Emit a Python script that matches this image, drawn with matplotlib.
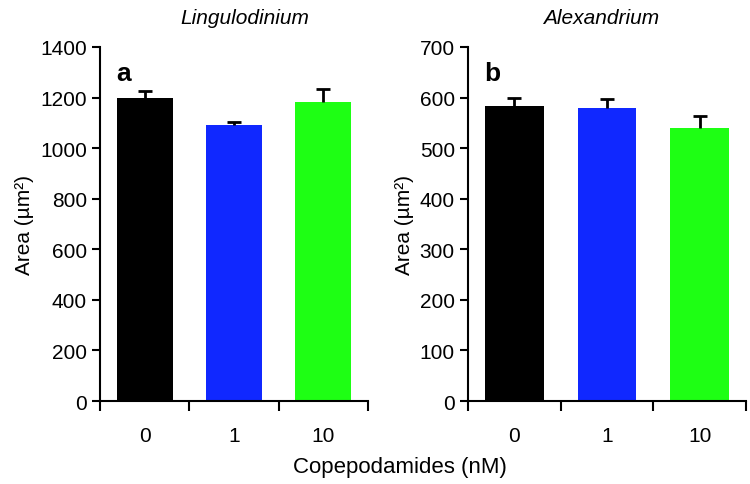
import numpy as np
import matplotlib.pyplot as plt

plt.rcParams['font.family'] = ['Liberation Sans', 'DejaVu Sans']

categories = ['0', '1', '10']
colors = ['#000000', '#1028ff', '#1eff14']

ling_mean = [1200, 1090, 1182]
ling_err = [25, 12, 50]
alex_mean = [583, 580, 540]
alex_err = [17, 18, 24]

fig = plt.figure(figsize=(7.5, 4.85), dpi=100)
ax1 = fig.add_axes([0.1333, 0.1711, 0.3574, 0.73])
ax2 = fig.add_axes([0.624, 0.1711, 0.3707, 0.73])

def panel(ax, means, errs, ymax, step, letter, title, tx):
	x = np.arange(len(categories))
	ax.bar(x, means, width=0.63, color=colors, zorder=2)
	# upper error only
	eb = ax.errorbar(x, means, yerr=[np.zeros(len(errs)), errs], fmt='none',
		ecolor='black', elinewidth=2, capsize=5, capthick=2, zorder=3)
	caps = eb[1]
	if len(caps) == 2:
		caps[0].set_visible(False)
	ax.set_xlim(-0.5, len(categories) - 0.5)
	ax.set_ylim(0, ymax)
	ax.set_yticks(np.arange(0, ymax + 1, step))
	ax.set_xticks(x)
	ax.set_xticklabels(categories, fontsize=15)
	ax.set_xticks(np.arange(-0.5, len(categories), 1), minor=True)
	ax.tick_params(axis='x', which='major', length=0, pad=18)
	ax.tick_params(axis='x', which='minor', length=7, width=1.5, direction='out')
	ax.tick_params(axis='y', length=6, width=1.5, direction='out', labelsize=15)
	for s in ['top', 'right']:
		ax.spines[s].set_visible(False)
	for s in ['left', 'bottom']:
		ax.spines[s].set_linewidth(1.5)
	ax.set_ylabel('Area (µm²)', fontsize=15)
	ax.text(0.06, 0.96, letter, transform=ax.transAxes, fontsize=19,
		fontweight='bold', va='top', ha='left')
	ax.set_title(title, fontsize=15, style='italic', pad=17, x=tx)

panel(ax1, ling_mean, ling_err, 1400, 200, 'a', 'Lingulodinium', 0.54)
panel(ax2, alex_mean, alex_err, 700, 100, 'b', 'Alexandrium', 0.48)

fig.text(0.533, 0.025, 'Copepodamides (nM)', ha='center', fontsize=16)

fig.savefig('out.png', dpi=100)
